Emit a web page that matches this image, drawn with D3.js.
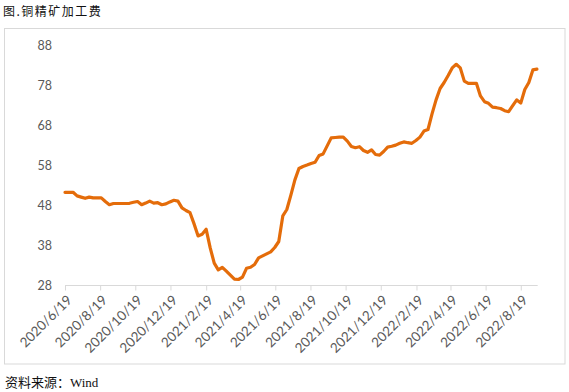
<!DOCTYPE html>
<html>
<head>
<meta charset="utf-8">
<script src="https://cdn.jsdelivr.net/npm/d3@7"></script>
<style>
  html, body { margin: 0; padding: 0; background: #fff; }
  svg { display: block; }
</style>
</head>
<body>
<script>
// ---- data ----
const startDate = "2020/6/19";   // first weekly observation (Friday)
const values = [
  51.3, 51.3, 51.3, 50.4, 50.1, 49.8, 50.1, 49.9, 49.9, 49.9,
  49.0, 48.2, 48.5, 48.5, 48.5, 48.5, 48.55, 48.8, 49.0, 48.2,
  48.6, 49.1, 48.6, 48.7, 48.2, 48.4, 48.9, 49.3, 49.1, 47.4,
  46.75, 46.2, 43.4, 40.4, 40.8, 42.05, 37.4, 33.6, 31.9, 32.55,
  31.6, 30.6, 29.6, 29.5, 30.1, 32.3, 32.55, 33.25, 34.9, 35.4,
  35.9, 36.4, 37.5, 39.0, 45.4, 47.0, 50.6, 54.4, 57.25, 57.75,
  58.1, 58.5, 58.8, 60.5, 60.9, 62.9, 64.9, 65.0, 65.1, 65.1,
  64.1, 62.75, 62.45, 62.7, 61.75, 61.3, 61.9, 60.75, 60.6, 61.5,
  62.6, 62.8, 63.1, 63.55, 63.9, 63.7, 63.55, 64.25, 65.1, 66.6,
  67.0, 70.9, 74.4, 77.25, 78.75, 80.5, 82.4, 83.3, 82.4, 79.1,
  78.55, 78.55, 78.55, 75.4, 73.95, 73.55, 72.6, 72.45, 72.25, 71.7,
  71.45, 72.95, 74.4, 73.6, 77.0, 78.75, 81.9, 82.1
];
const xTickLabels = [
  "2020/6/19", "2020/8/19", "2020/10/19", "2020/12/19", "2021/2/19",
  "2021/4/19", "2021/6/19", "2021/8/19", "2021/10/19", "2021/12/19",
  "2022/2/19", "2022/4/19", "2022/6/19", "2022/8/19"
];
const yTicks = [28, 38, 48, 58, 68, 78, 88];
const titleText = "图.铜精矿加工费";
const sourceText = "资料来源：Wind";

// ---- chart ----
const W = 569, H = 392;
const parse = d3.timeParse("%Y/%m/%d");
const t0 = parse(startDate);
const data = values.map((v, i) => ({ date: d3.timeDay.offset(t0, 7 * i), value: v }));

const svg = d3.select("body").append("svg").attr("width", W).attr("height", H);

// outer frame
svg.append("rect")
  .attr("x", 4.5).attr("y", 28.5)
  .attr("width", 560.5).attr("height", 335.5)
  .attr("fill", "none").attr("stroke", "#d9d9d9").attr("stroke-width", 1);

const x = d3.scaleTime()
  .domain([t0, data[data.length - 1].date])
  .range([65, 536.9]);
const y = d3.scaleLinear().domain([28, 88]).range([285.5, 45.5]);

// x axis
const xAxis = d3.axisBottom(x)
  .tickValues(xTickLabels.map(parse))
  .tickFormat(d3.timeFormat("%Y/%-m/%-d"))
  .tickSize(5).tickSizeOuter(0);
const gx = svg.append("g").attr("transform", "translate(0,285.5)").call(xAxis);
gx.select(".domain").attr("stroke", "#d9d9d9").attr("d", "M65,0H537.7");
gx.selectAll(".tick line").attr("stroke", "#d9d9d9");
gx.selectAll(".tick text")
  .attr("fill", "#595959")
  .attr("font-family", "Lato, 'Open Sans', sans-serif")
  .attr("font-size", "13.5px")
  .attr("text-anchor", "end")
  .attr("y", 0).attr("dy", "0.35em")
  .attr("transform", "translate(4,12) rotate(-45)");

// y axis (labels only)
const yAxis = d3.axisLeft(y).tickValues(yTicks).tickSize(0).tickPadding(0);
const gy = svg.append("g").attr("transform", "translate(52,0)").call(yAxis);
gy.select(".domain").remove();
gy.selectAll(".tick text")
  .attr("fill", "#595959")
  .attr("font-family", "Lato, 'Open Sans', sans-serif")
  .attr("font-size", "12.5px");

// line
svg.append("path")
  .datum(data)
  .attr("fill", "none")
  .attr("stroke", "#E46C0A")
  .attr("stroke-width", 3.2)
  .attr("stroke-linejoin", "round")
  .attr("stroke-linecap", "round")
  .attr("d", d3.line().x(d => x(d.date)).y(d => y(d.value)));

// title
svg.append("text")
  .attr("x", 3).attr("y", 16)
  .attr("font-family", "'Noto Sans CJK SC', sans-serif")
  .attr("font-size", "12px")
  .attr("letter-spacing", "1.5px")
  .attr("fill", "#111")
  .text(titleText);

// source
svg.append("text")
  .attr("x", 5).attr("y", 387)
  .attr("font-family", "'Liberation Serif', 'Noto Sans CJK SC', serif")
  .attr("font-size", "13px")
  .attr("fill", "#111")
  .text(sourceText);
</script>
</body>
</html>
